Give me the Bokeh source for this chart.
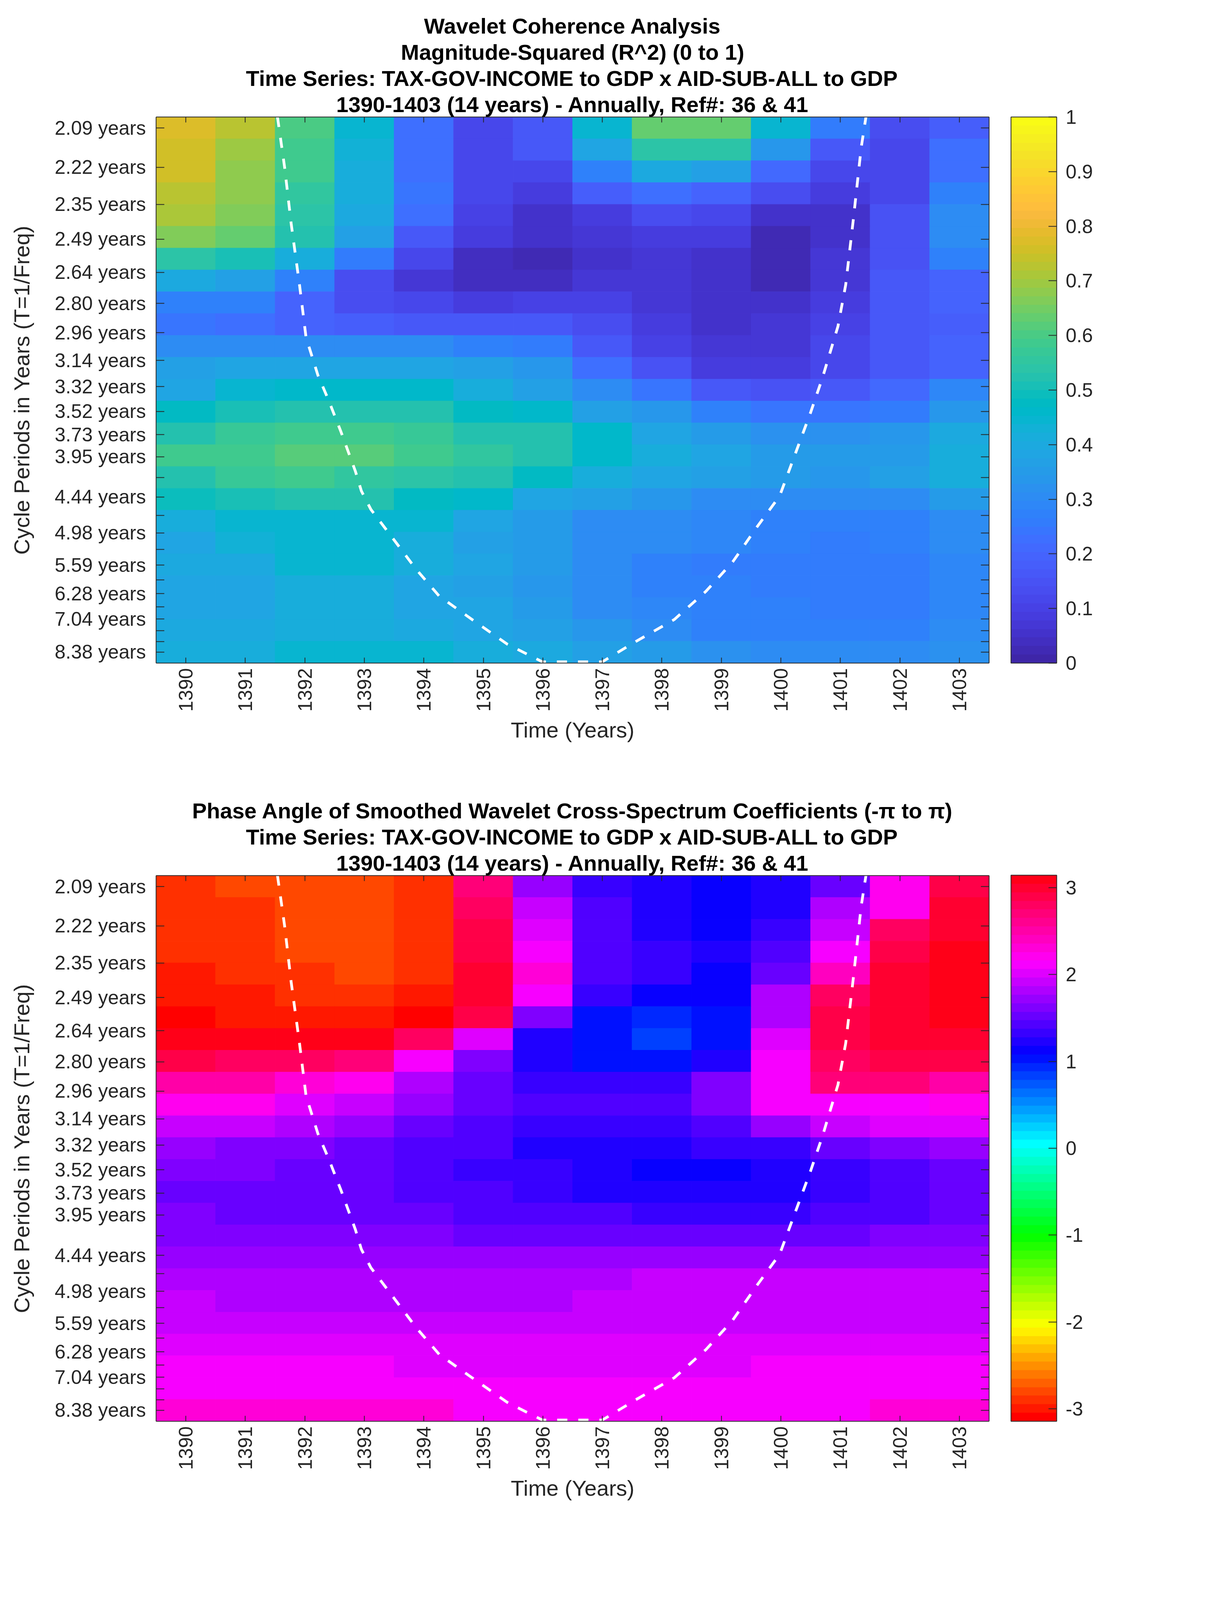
from bokeh.plotting import figure
from bokeh.models import (LinearColorMapper, ColorBar, FixedTicker, LinearAxis, Range1d, Title,
                          ColumnDataSource)
from bokeh.layouts import column
from bokeh.embed import file_html
from bokeh.resources import INLINE
from bokeh.transform import transform
import colorsys
import math

years = list(range(1390, 1404))

period_ticks = [2.095, 2.220, 2.352, 2.491, 2.640, 2.797, 2.963, 3.139, 3.326, 3.524, 3.733, 3.955, 4.190,
                4.439, 4.703, 4.983, 5.279, 5.593, 5.925, 6.278, 6.651, 7.046, 7.465, 7.909, 8.379]
period_labels = ["2.09 years", "2.22 years", "2.35 years", "2.49 years", "2.64 years", "2.80 years",
                 "2.96 years", "3.14 years", "3.32 years", "3.52 years", "3.73 years", "3.95 years", "",
                 "4.44 years", "", "4.98 years", "", "5.59 years", "", "6.28 years", "", "7.04 years",
                 "", "", "8.38 years"]

freq_top = 0.48487
freq_bottom = 0.11182

coherence = [
    [.77, .72, .60, .45, .23, .11, .16, .45, .63, .63, .44, .26, .13, .18],
    [.75, .70, .58, .43, .23, .12, .17, .38, .54, .54, .34, .17, .12, .22],
    [.75, .68, .58, .42, .23, .12, .12, .27, .40, .37, .21, .12, .12, .23],
    [.73, .68, .56, .42, .24, .12, .09, .18, .23, .20, .13, .09, .12, .27],
    [.71, .67, .54, .40, .23, .10, .06, .09, .13, .12, .06, .06, .15, .30],
    [.67, .63, .52, .36, .17, .09, .05, .07, .09, .08, .03, .05, .15, .30],
    [.54, .51, .41, .26, .11, .04, .03, .05, .07, .05, .03, .07, .15, .28],
    [.40, .36, .27, .14, .07, .04, .04, .07, .07, .05, .03, .07, .16, .20],
    [.27, .27, .20, .13, .11, .09, .10, .10, .07, .05, .05, .09, .16, .19],
    [.24, .23, .20, .18, .17, .16, .17, .13, .09, .05, .07, .10, .16, .18],
    [.31, .31, .31, .31, .31, .27, .25, .17, .10, .07, .07, .11, .16, .20],
    [.37, .38, .38, .38, .38, .37, .33, .23, .15, .08, .09, .11, .16, .20],
    [.39, .44, .46, .46, .46, .42, .37, .30, .24, .16, .15, .17, .21, .29],
    [.47, .50, .52, .52, .52, .48, .46, .36, .33, .27, .24, .24, .26, .34],
    [.53, .57, .59, .59, .57, .53, .52, .46, .39, .35, .32, .32, .33, .40],
    [.58, .59, .61, .61, .58, .55, .52, .46, .42, .38, .35, .35, .35, .41],
    [.53, .57, .59, .56, .54, .52, .48, .41, .39, .36, .35, .34, .37, .41],
    [.49, .51, .52, .52, .47, .46, .39, .37, .33, .31, .30, .30, .31, .35],
    [.42, .44, .45, .45, .44, .38, .35, .31, .30, .29, .27, .27, .28, .31],
    [.39, .43, .45, .44, .41, .37, .35, .31, .30, .29, .28, .26, .27, .31],
    [.40, .40, .44, .44, .41, .38, .35, .31, .28, .26, .25, .25, .26, .29],
    [.39, .39, .42, .42, .39, .37, .34, .31, .28, .27, .26, .25, .26, .29],
    [.39, .39, .42, .42, .39, .38, .35, .31, .29, .28, .28, .25, .26, .29],
    [.40, .40, .42, .42, .40, .39, .36, .33, .30, .28, .28, .28, .28, .30],
    [.41, .41, .44, .44, .44, .42, .40, .37, .35, .32, .31, .31, .31, .32],
]

phase = [
    [-2.93, -2.81, -2.81, -2.81, -2.93, 2.72, 1.75, 1.33, 1.22, 1.15, 1.20, 1.54, 2.23, 2.93],
    [-2.93, -2.93, -2.81, -2.81, -2.93, 2.78, 1.90, 1.47, 1.22, 1.15, 1.22, 1.82, 2.25, 3.00],
    [-2.93, -2.93, -2.81, -2.81, -2.93, 2.90, 2.00, 1.45, 1.26, 1.15, 1.35, 1.95, 2.78, 3.00],
    [-2.93, -2.93, -2.81, -2.81, -2.93, 2.93, 2.15, 1.47, 1.28, 1.20, 1.45, 2.15, 2.93, 3.08],
    [-3.00, -2.93, -2.93, -2.81, -2.93, 3.00, 2.30, 1.47, 1.30, 1.15, 1.55, 2.45, 3.00, 3.14],
    [-3.00, -3.00, -2.93, -2.93, -3.00, 2.95, 2.15, 1.35, 1.15, 1.15, 1.85, 2.75, 3.00, 3.14],
    [-3.14, -3.00, -3.00, -3.00, -3.14, 2.85, 1.60, 1.03, 0.93, 1.05, 1.85, 2.85, 3.00, 3.05],
    [3.10, 3.08, 3.08, 3.05, 2.75, 2.00, 1.20, 1.00, 0.82, 1.00, 2.00, 2.85, 2.98, 2.98],
    [2.85, 2.82, 2.82, 2.70, 2.15, 1.65, 1.20, 1.03, 1.03, 1.25, 2.10, 2.82, 2.90, 2.90],
    [2.55, 2.55, 2.30, 2.25, 1.80, 1.55, 1.35, 1.30, 1.30, 1.60, 2.10, 2.70, 2.70, 2.55],
    [2.20, 2.20, 2.00, 1.90, 1.70, 1.55, 1.45, 1.40, 1.40, 1.60, 2.15, 2.15, 2.15, 2.20],
    [1.95, 1.95, 1.80, 1.70, 1.55, 1.45, 1.35, 1.35, 1.30, 1.45, 1.70, 1.95, 2.00, 2.00],
    [1.75, 1.60, 1.60, 1.50, 1.45, 1.40, 1.25, 1.25, 1.25, 1.30, 1.30, 1.55, 1.65, 1.75],
    [1.65, 1.65, 1.55, 1.55, 1.45, 1.35, 1.30, 1.25, 1.13, 1.13, 1.27, 1.32, 1.45, 1.55],
    [1.55, 1.55, 1.55, 1.55, 1.45, 1.40, 1.32, 1.25, 1.25, 1.25, 1.27, 1.30, 1.45, 1.55],
    [1.65, 1.55, 1.55, 1.55, 1.55, 1.45, 1.45, 1.45, 1.32, 1.32, 1.32, 1.42, 1.45, 1.55],
    [1.60, 1.60, 1.60, 1.60, 1.60, 1.50, 1.50, 1.50, 1.50, 1.50, 1.50, 1.50, 1.60, 1.60],
    [1.68, 1.68, 1.68, 1.68, 1.68, 1.68, 1.68, 1.68, 1.68, 1.68, 1.68, 1.68, 1.68, 1.68],
    [1.78, 1.78, 1.78, 1.78, 1.78, 1.78, 1.78, 1.78, 1.90, 1.90, 1.90, 1.90, 1.90, 1.90],
    [1.92, 1.80, 1.80, 1.80, 1.80, 1.80, 1.80, 1.92, 1.92, 1.92, 1.92, 1.92, 1.92, 1.92],
    [1.95, 1.95, 1.95, 1.95, 1.95, 1.95, 1.95, 1.95, 1.95, 1.95, 1.95, 1.95, 1.95, 1.95],
    [1.98, 1.98, 1.98, 1.98, 1.98, 1.98, 1.98, 1.98, 1.98, 1.98, 1.98, 1.98, 1.98, 1.98],
    [2.07, 2.07, 2.07, 2.07, 1.98, 1.98, 1.98, 1.98, 1.98, 1.98, 2.07, 2.07, 2.07, 2.07],
    [2.10, 2.10, 2.10, 2.10, 2.10, 2.10, 2.10, 2.10, 2.10, 2.10, 2.10, 2.10, 2.10, 2.15],
    [2.30, 2.30, 2.30, 2.30, 2.30, 2.15, 2.15, 2.15, 2.15, 2.15, 2.15, 2.15, 2.27, 2.27],
]

coi_year = [1391.54, 1391.66, 1391.77, 1391.91, 1392.02, 1392.22, 1392.40, 1392.61, 1392.85, 1392.95, 1393.11,
            1393.50, 1393.87, 1394.26, 1394.81, 1395.40, 1395.99, 1397.00, 1397.56, 1398.21, 1398.74, 1399.19,
            1399.59, 1399.98, 1400.24, 1400.50, 1400.70, 1400.96, 1401.09, 1401.22, 1401.35, 1401.43]
coi_freq = [.4849, .4505, .4121, .3703, .3343, .3084, .2913, .2695, .2428, .2294, .2168,
            .1959, .1759, .1575, .1416, .1248, .1127, .1127, .1265, .1416, .1608, .1809,
            .2043, .2260, .2545, .2830, .3068, .3419, .3703, .4155, .4639, .4849]

parula = [
    (0.2422, 0.1504, 0.6603), (0.2504, 0.1650, 0.7076), (0.2578, 0.1818, 0.7511), (0.2647, 0.1978, 0.7952),
    (0.2706, 0.2147, 0.8364), (0.2751, 0.2342, 0.8710), (0.2783, 0.2559, 0.8991), (0.2803, 0.2782, 0.9221),
    (0.2813, 0.3006, 0.9414), (0.2810, 0.3228, 0.9579), (0.2795, 0.3447, 0.9717), (0.2760, 0.3667, 0.9829),
    (0.2699, 0.3892, 0.9906), (0.2602, 0.4123, 0.9952), (0.2440, 0.4358, 0.9988), (0.2206, 0.4603, 0.9973),
    (0.1963, 0.4847, 0.9892), (0.1834, 0.5074, 0.9798), (0.1786, 0.5289, 0.9682), (0.1764, 0.5499, 0.9520),
    (0.1687, 0.5703, 0.9359), (0.1540, 0.5902, 0.9218), (0.1460, 0.6091, 0.9079), (0.1380, 0.6276, 0.8973),
    (0.1248, 0.6459, 0.8883), (0.1113, 0.6635, 0.8763), (0.0952, 0.6798, 0.8598), (0.0689, 0.6948, 0.8394),
    (0.0297, 0.7082, 0.8163), (0.0036, 0.7203, 0.7917), (0.0067, 0.7312, 0.7660), (0.0433, 0.7411, 0.7394),
    (0.0964, 0.7500, 0.7120), (0.1408, 0.7584, 0.6842), (0.1717, 0.7670, 0.6554), (0.1938, 0.7758, 0.6251),
    (0.2161, 0.7843, 0.5923), (0.2470, 0.7918, 0.5567), (0.2906, 0.7973, 0.5188), (0.3406, 0.8008, 0.4789),
    (0.3909, 0.8029, 0.4354), (0.4456, 0.8024, 0.3909), (0.5044, 0.7993, 0.3480), (0.5616, 0.7942, 0.3045),
    (0.6174, 0.7876, 0.2612), (0.6720, 0.7793, 0.2227), (0.7242, 0.7698, 0.1910), (0.7738, 0.7598, 0.1646),
    (0.8203, 0.7498, 0.1535), (0.8634, 0.7406, 0.1596), (0.9035, 0.7330, 0.1774), (0.9393, 0.7288, 0.2100),
    (0.9728, 0.7298, 0.2394), (0.9956, 0.7434, 0.2371), (0.9970, 0.7659, 0.2199), (0.9952, 0.7893, 0.2028),
    (0.9892, 0.8136, 0.1885), (0.9786, 0.8386, 0.1766), (0.9676, 0.8639, 0.1643), (0.9610, 0.8890, 0.1537),
    (0.9597, 0.9135, 0.1423), (0.9628, 0.9373, 0.1265), (0.9691, 0.9606, 0.1064), (0.9769, 0.9839, 0.0805),
]
PARULA = ["#%02x%02x%02x" % tuple(round(c * 255) for c in t) for t in parula]
HSV = ["#%02x%02x%02x" % tuple(round(c * 255) for c in colorsys.hsv_to_rgb(i / 64, 1, 1)) for i in range(64)]

TXT = "#262626"
SANS = "Liberation Sans"
LABEL_PX = "56px"
TITLE_PX = "56px"
TICK_PX = "50px"
FRAME_W, FRAME_H = 2132, 1398


def style_axis(ax, tick_len):
    ax.axis_line_color = TXT
    ax.axis_line_width = 2
    ax.major_tick_line_color = TXT
    ax.major_tick_line_width = 2
    ax.major_tick_in = tick_len
    ax.major_tick_out = 0
    ax.minor_tick_line_color = None


def panel(values, low, high, palette, cticks, cfmt, titles, top_border, height):
    y_ticks = [1 / t for t in period_ticks]
    p = figure(width=3100, height=height, output_backend="svg", toolbar_location=None,
               x_range=Range1d(years[0] - 0.5, years[-1] + 0.5), y_range=Range1d(freq_bottom, freq_top),
               min_border_left=399, min_border_right=3100 - 399 - FRAME_W, min_border_top=top_border,
               min_border_bottom=height - top_border - FRAME_H, x_axis_type=None, y_axis_type=None)
    p.xgrid.visible = False
    p.ygrid.visible = False
    p.outline_line_color = None
    n = len(values)
    step = (freq_top - freq_bottom) / n
    left, right, top, bottom, val = [], [], [], [], []
    for r, row in enumerate(values):
        for yr, v in zip(years, row):
            left.append(yr - 0.5)
            right.append(yr + 0.5)
            top.append(freq_top - r * step)
            bottom.append(freq_top - (r + 1) * step)
            val.append(v)
    src = ColumnDataSource(dict(left=left, right=right, top=top, bottom=bottom, val=val))
    mapper = LinearColorMapper(palette=palette, low=low, high=high)
    p.quad(left="left", right="right", top="top", bottom="bottom", source=src,
           fill_color=transform("val", mapper), line_color=transform("val", mapper), line_width=1)
    p.line(coi_year, coi_freq, line_color="white", line_width=7, line_dash="26 28")

    xb = LinearAxis(ticker=FixedTicker(ticks=years), axis_label="Time (Years)")
    style_axis(xb, 14)
    xb.major_label_orientation = math.pi / 2
    xb.major_label_text_font = SANS
    xb.major_label_text_font_size = TICK_PX
    xb.major_label_text_color = TXT
    xb.major_label_standoff = 13
    xb.axis_label_text_font = SANS
    xb.axis_label_text_font_size = LABEL_PX
    xb.axis_label_text_font_style = "normal"
    xb.axis_label_text_color = TXT
    xb.axis_label_standoff = 12
    p.add_layout(xb, "below")

    yl = LinearAxis(ticker=FixedTicker(ticks=y_ticks), axis_label="Cycle Periods in Years (T=1/Freq)")
    yl.major_label_overrides = dict(zip(y_ticks, period_labels))
    style_axis(yl, 21)
    yl.major_label_text_font = SANS
    yl.major_label_text_font_size = TICK_PX
    yl.major_label_text_color = TXT
    yl.major_label_standoff = 26
    yl.axis_label_text_font = SANS
    yl.axis_label_text_font_size = LABEL_PX
    yl.axis_label_text_font_style = "normal"
    yl.axis_label_text_color = TXT
    yl.axis_label_standoff = 50
    p.add_layout(yl, "left")

    yr_ax = LinearAxis(ticker=FixedTicker(ticks=y_ticks), major_label_text_color=None,
                       major_label_text_font_size="0px", major_label_standoff=0,
                       major_label_overrides={t: "" for t in y_ticks})
    style_axis(yr_ax, 21)
    p.add_layout(yr_ax, "right")
    xt = LinearAxis(ticker=FixedTicker(ticks=years), major_label_text_color=None,
                    major_label_text_font_size="0px", major_label_standoff=0,
                    major_label_overrides={t: "" for t in years})
    style_axis(xt, 14)
    p.add_layout(xt, "above")

    for line in reversed(titles):
        p.add_layout(Title(text=line, align="center", text_font=SANS, text_font_size=TITLE_PX,
                           text_font_style="bold", text_color="black", standoff=2), "above")

    cb = ColorBar(color_mapper=mapper, ticker=FixedTicker(ticks=cticks), width=117, height=FRAME_H,
                  padding=0, margin=0, location=(56, 0), major_tick_in=21, major_tick_out=0,
                  major_tick_line_color=TXT,
                  major_tick_line_width=2, minor_tick_line_color=None, bar_line_color=TXT, bar_line_width=2,
                  major_label_text_font=SANS, major_label_text_font_size=TICK_PX, major_label_text_color=TXT,
                  major_label_overrides=cfmt, label_standoff=23)
    p.add_layout(cb, "right")
    return p


coh_ticks = [i / 10 for i in range(11)]
coh_labels = {t: ("%g" % t) for t in coh_ticks}
phase_ticks = [-3, -2, -1, 0, 1, 2, 3]
phase_labels = {t: str(t) for t in phase_ticks}

p1 = panel(coherence, 0, 1, PARULA, coh_ticks, coh_labels,
           ["Wavelet Coherence Analysis", "Magnitude-Squared (R^2) (0 to 1)",
            "Time Series: TAX-GOV-INCOME to GDP x AID-SUB-ALL to GDP",
            "1390-1403 (14 years) - Annually, Ref#: 36 & 41"], 299, 2040)
p2 = panel(phase, -math.pi, math.pi, HSV, phase_ticks, phase_labels,
           ["Phase Angle of Smoothed Wavelet Cross-Spectrum Coefficients (-π to π)",
            "Time Series: TAX-GOV-INCOME to GDP x AID-SUB-ALL to GDP",
            "1390-1403 (14 years) - Annually, Ref#: 36 & 41"], 200, 2030)

layout = column(p1, p2, spacing=0)
open("out.html", "w").write(file_html(layout, INLINE))
